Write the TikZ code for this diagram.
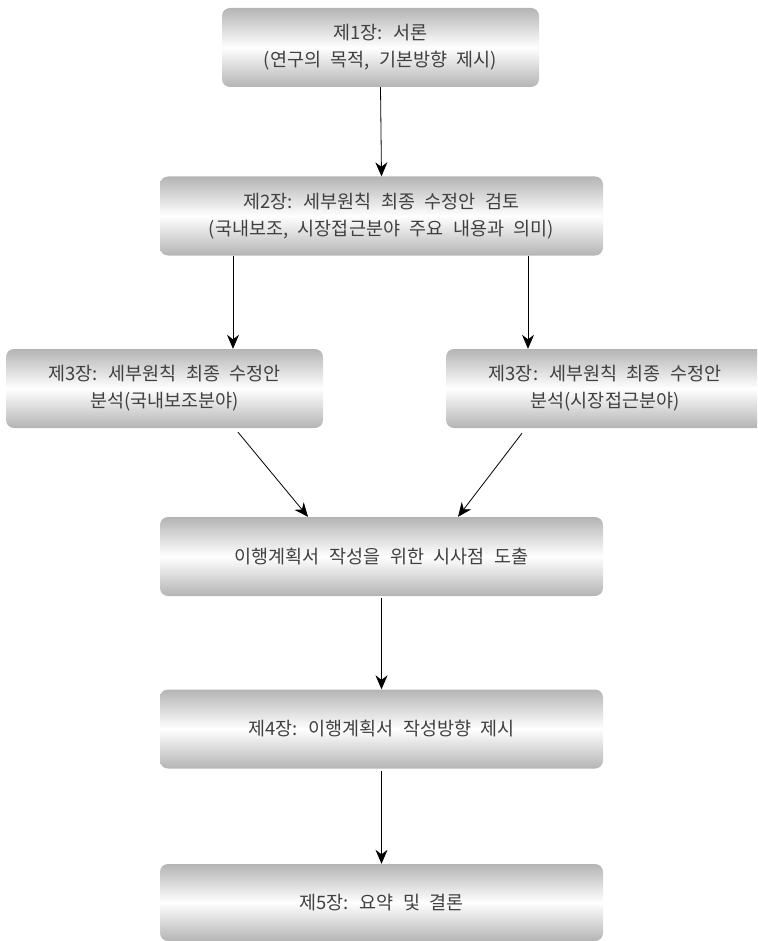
\documentclass[tikz,border=0pt]{standalone}
\usepackage{fontspec}
\setmainfont[WordSpace=2.3]{Noto Sans CJK KR}
\usetikzlibrary{arrows.meta}
\definecolor{txt}{HTML}{404040}
\definecolor{edge}{HTML}{B4B4B4}
\tikzset{
  box/.style={rounded corners=8pt, top color=edge, bottom color=edge, middle color=white,
    draw=none, align=center, text=txt, font=\fontsize{18.5}{27}\selectfont,
    inner sep=0pt, minimum height=79pt},
  wide/.style={box, minimum width=443pt},
  narrow/.style={box, minimum width=317pt},
  arr/.style={-{Stealth[length=14pt,width=12pt]}, line width=0.8pt, black}
}
\begin{document}
\begin{tikzpicture}[x=1pt,y=-1pt]
\useasboundingbox (0,0) rectangle (757,941);
\clip (0,0) rectangle (757,941);
\node[narrow] (b1) at (380.5,47.5) {제1장: 서론\\(연구의 목적, 기본방향 제시)};
\node[wide] (b2) at (381.5,216) {제2장: 세부원칙 최종 수정안 검토\\(국내보조, 시장접근분야 주요 내용과 의미)};
\node[narrow] (b3l) at (164.5,388.5) {제3장: 세부원칙 최종 수정안\\분석(국내보조분야)};
\node[box, minimum width=318pt] (b3r) at (605,388.5) {제3장: 세부원칙 최종 수정안\\분석(시장접근분야)};
\node[wide] (b4) at (381.5,556.5) {이행계획서 작성을 위한 시사점 도출};
\node[wide] (b5) at (381.5,729) {제4장: 이행계획서 작성방향 제시};
\node[wide, minimum height=77pt] (b6) at (381.5,902.5) {제5장: 요약 및 결론};
\draw[arr] (b1.south) -- (b2.north);
\draw[arr] ([xshift=-148.5pt]b2.south) -- ([xshift=68.5pt]b3l.north);
\draw[arr] ([xshift=146.5pt]b2.south) -- ([xshift=-77pt]b3r.north);
\draw[arr] ([xshift=73.5pt,yshift=-4pt]b3l.south) -- ([xshift=-73.5pt]b4.north);
\draw[arr] ([xshift=-83pt,yshift=-5pt]b3r.south) -- ([xshift=76.5pt]b4.north);
\draw[arr] ([yshift=-2pt]b4.south) -- (b5.north);
\draw[arr] ([yshift=-2pt]b5.south) -- (b6.north);
\end{tikzpicture}
\end{document}
